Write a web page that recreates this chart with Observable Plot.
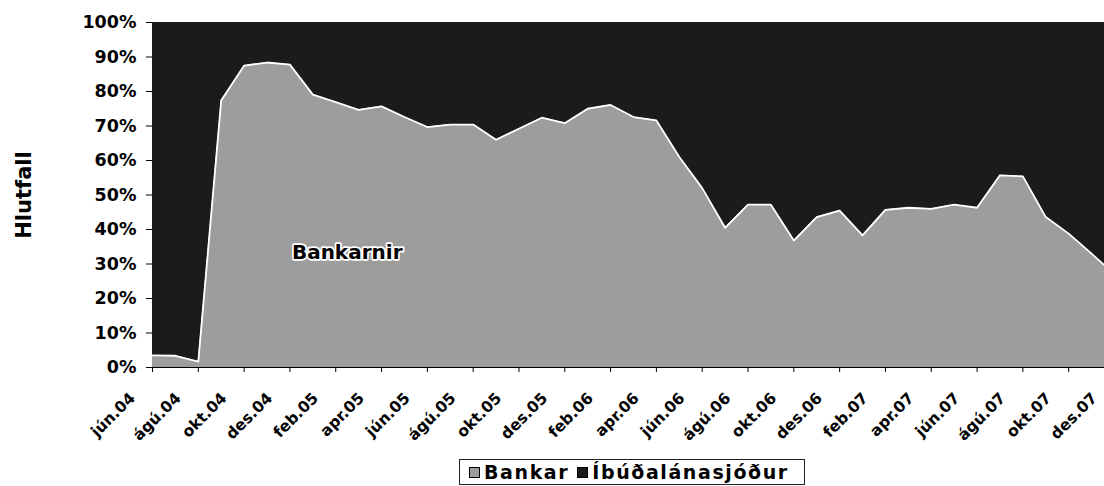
<!DOCTYPE html>
<html>
<head>
<meta charset="utf-8">
<script src="https://cdn.jsdelivr.net/npm/d3@7"></script>
<script src="https://cdn.jsdelivr.net/npm/@observablehq/plot@0.6"></script>
<style>
  html, body { margin: 0; padding: 0; background: #fff; overflow: hidden; }
  body { width: 1104px; height: 486px; position: relative; }
  #chart { position: absolute; left: 0; top: 0; width: 1116px; }
  .legend {
    position: absolute; left: 459px; top: 459px; width: 346px; height: 26px;
    box-sizing: border-box; border: 1px solid #222; background: #fff;
    display: flex; align-items: center; justify-content: flex-start;
    padding-left: 7px;
    font-family: "DejaVu Sans", sans-serif; font-weight: bold; font-size: 19px; color: #000;
    letter-spacing: 1.6px; white-space: nowrap;
  }
  .sw { display: inline-block; flex: 0 0 auto; width: 9px; height: 9px; border: 1px solid #000; margin: 0 4px 0 2px; }
  .gap { display: inline-block; flex: 0 0 auto; width: 6px; }
</style>
</head>
<body>
<div id="chart"></div>
<div class="legend" id="legend"></div>
<script>
// Months (one data point per month)
const months = ["jún.04","júl.04","ágú.04","sep.04","okt.04","nóv.04","des.04",
  "jan.05","feb.05","mar.05","apr.05","maí.05","jún.05","júl.05","ágú.05","sep.05","okt.05","nóv.05","des.05",
  "jan.06","feb.06","mar.06","apr.06","maí.06","jún.06","júl.06","ágú.06","sep.06","okt.06","nóv.06","des.06",
  "jan.07","feb.07","mar.07","apr.07","maí.07","jún.07","júl.07","ágú.07","sep.07","okt.07","nóv.07","des.07"];

// Share (%) of Bankar
const bankar = [3.5,3.4,1.7,77.4,87.5,88.4,87.8,
  79.1,76.9,74.7,75.7,72.6,69.7,70.4,70.4,66.0,69.2,72.4,70.8,
  75.0,76.1,72.6,71.6,61.0,52.0,40.5,47.2,47.2,36.8,43.6,45.5,
  38.3,45.7,46.3,46.0,47.2,46.3,55.7,55.4,43.6,38.8,33.0,27.0];

// Share (%) of Íbúðalánasjóður
const ibud = [96.5,96.6,98.3,22.6,12.5,11.6,12.2,
  20.9,23.1,25.3,24.3,27.4,30.3,29.6,29.6,34.0,30.8,27.6,29.2,
  25.0,23.9,27.4,28.4,39.0,48.0,59.5,52.8,52.8,63.2,56.4,54.5,
  61.7,54.3,53.7,54.0,52.8,53.7,44.3,44.6,56.4,61.2,67.0,73.0];

const seriesNames = ["Bankar", "Íbúðalánasjóður"];
const seriesColors = ["#9d9d9d", "#1b1b1b"];

// Tick labels
const xTickIndex = months.map((m, i) => i).filter(i => i % 2 === 0);
const yTicks = [0, 0.1, 0.2, 0.3, 0.4, 0.5, 0.6, 0.7, 0.8, 0.9, 1.0];
const yLabel = ["Hlutfall"];
const annotations = [{ label: "Bankarnir", x: 8.5, y: 0.333 }];

const rows = months.flatMap((m, i) => [
  { i, month: m, series: seriesNames[0], value: bankar[i] },
  { i, month: m, series: seriesNames[1], value: ibud[i] }
]);
const bankRows = rows.filter(d => d.series === seriesNames[0]);

const font = "DejaVu Sans";

const chart = Plot.plot({
  width: 1116,
  height: 457,
  marginLeft: 152,
  marginRight: 2,
  marginTop: 22,
  marginBottom: 90,
  style: { fontFamily: font, background: "transparent", color: "#000", overflow: "visible" },
  x: { type: "linear", domain: [0, months.length - 1] },
  y: { domain: [0, 1] },
  color: { domain: seriesNames, range: seriesColors },
  marks: [
    Plot.areaY(rows, {
      x: "i", y: "value", fill: "series",
      offset: "normalize", order: seriesNames
    }),
    Plot.lineY(bankRows, {
      x: "i", y: d => d.value / (bankar[d.i] + ibud[d.i]),
      stroke: "#fff", strokeWidth: 1.8
    }),
    Plot.ruleY([0], { stroke: "#000", strokeWidth: 1.2 }),
    Plot.axisY({
      ticks: yTicks, tickFormat: d3.format(".0%"),
      tickSize: 6, tickPadding: 10, fontSize: 17.5, fontWeight: "bold", label: null
    }),
    Plot.axisX({
      ticks: xTickIndex, tickFormat: () => "", tickSize: 5, label: null
    }),
    Plot.axisX({
      ticks: xTickIndex, tickFormat: i => months[i], tickRotate: -45,
      tickSize: 0, tickPadding: 28, dx: -20,
      fontSize: 15.5, fontWeight: "bold", label: null
    }),
    Plot.text(yLabel, {
      text: d => d, frameAnchor: "left", textAnchor: "middle", dx: -128, rotate: -90,
      fontSize: 21, fontWeight: "bold", fill: "#000"
    }),
    Plot.text(annotations, {
      x: "x", y: "y", text: "label",
      fill: "#000", stroke: "#fff", strokeWidth: 3.5, paintOrder: "stroke",
      fontSize: 20, fontWeight: "bold"
    })
  ]
});
document.getElementById("chart").appendChild(chart);

// Legend
const legend = document.getElementById("legend");
seriesNames.forEach((name, k) => {
  if (k > 0) {
    const g = document.createElement("span");
    g.className = "gap";
    legend.appendChild(g);
  }
  const sw = document.createElement("span");
  sw.className = "sw";
  sw.style.background = seriesColors[k];
  legend.appendChild(sw);
  const t = document.createElement("span");
  t.textContent = name;
  legend.appendChild(t);
});
</script>
</body>
</html>
